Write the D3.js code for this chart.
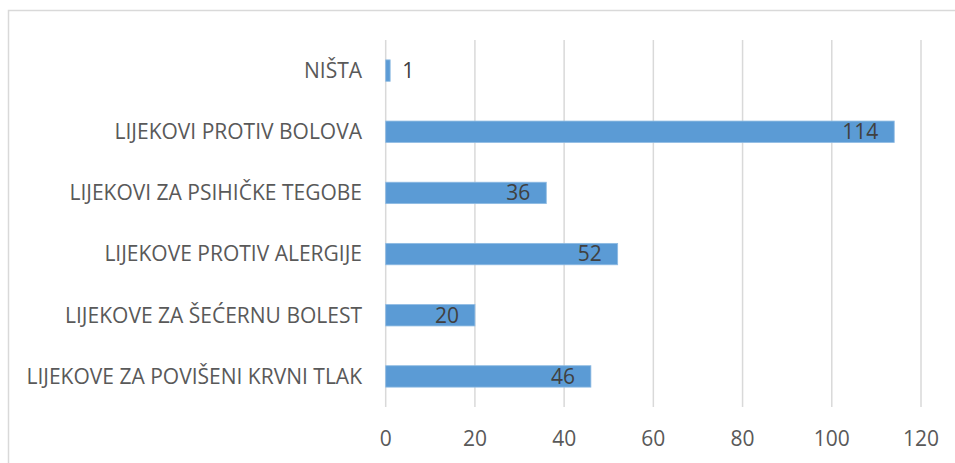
<!DOCTYPE html>
<html>
<head>
<meta charset="utf-8">
<script src="https://d3js.org/d3.v7.min.js"></script>
<style>
  body { margin: 0; background: #fff; }
  svg { display: block; font-family: "Open Sans", sans-serif; }
</style>
</head>
<body>
<svg id="chart" width="955" height="463"></svg>
<script>
const categories = [
    "NIŠTA",
    "LIJEKOVI PROTIV BOLOVA",
    "LIJEKOVI ZA PSIHIČKE TEGOBE",
    "LIJEKOVE PROTIV ALERGIJE",
    "LIJEKOVE ZA ŠEĆERNU BOLEST",
    "LIJEKOVE ZA POVIŠENI KRVNI TLAK"
];
const values = [1, 114, 36, 52, 20, 46];
const tickValues = [0, 20, 40, 60, 80, 100, 120];

const svg = d3.select("#chart");

// chart border
svg.append("rect")
    .attr("x", 8.5).attr("y", 10.5)
    .attr("width", 960).attr("height", 470)
    .attr("fill", "none")
    .attr("stroke", "#d9d9d9")
    .attr("stroke-width", 1.5);

let scaleX = d3.scaleLinear().domain([0, 120]).range([385.7, 921]);
let scaleY = d3.scaleBand().domain(categories).range([40, 407])
    .paddingInner(0.65).paddingOuter(0.325);

// vertical grid
tickValues.forEach(t => {
    svg.append("line")
        .attr("x1", scaleX(t)).attr("x2", scaleX(t))
        .attr("y1", 40).attr("y2", 407)
        .attr("stroke", "#d9d9d9")
        .attr("stroke-width", 1.5);
});

// tick labels
tickValues.forEach(t => {
    svg.append("text")
        .attr("x", scaleX(t))
        .attr("y", 439)
        .attr("dy", "0.35em")
        .attr("text-anchor", "middle")
        .attr("fill", "#595959")
        .attr("font-size", "21px")
        .text(t);
});

// category labels
categories.forEach(c => {
    svg.append("text")
        .attr("x", 362)
        .attr("y", scaleY(c) + scaleY.bandwidth() / 2)
        .attr("dy", "0.35em")
        .attr("text-anchor", "end")
        .attr("fill", "#595959")
        .attr("font-size", "21px")
        .text(c);
});

// bars
categories.forEach((c, i) => {
    svg.append("rect")
        .attr("x", scaleX(0))
        .attr("y", scaleY(c))
        .attr("width", scaleX(values[i]) - scaleX(0))
        .attr("height", scaleY.bandwidth())
        .attr("fill", "#5b9bd5")
        .attr("stroke", "#8fbbe3")
        .attr("stroke-width", 0.8);
});

// value labels: inside end, or outside when the bar is too short
categories.forEach((c, i) => {
    let end = scaleX(values[i]);
    let inside = end - scaleX(0) > 40;
    svg.append("text")
        .attr("x", inside ? end - 16 : end + 12)
        .attr("y", scaleY(c) + scaleY.bandwidth() / 2)
        .attr("dy", "0.35em")
        .attr("text-anchor", inside ? "end" : "start")
        .attr("fill", "#404040")
        .attr("font-size", "21px")
        .text(values[i]);
});
</script>
</body>
</html>
